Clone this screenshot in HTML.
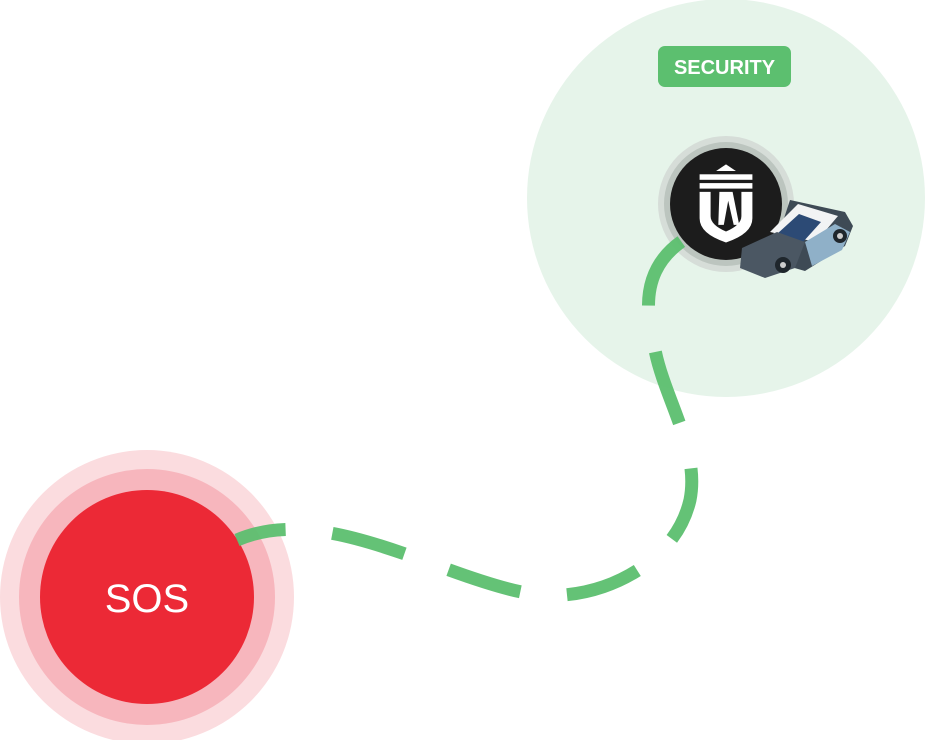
<!DOCTYPE html>
<html><head><style>html,body{margin:0;padding:0;background:#fff;}</style></head>
<body>
<svg width="925" height="740" viewBox="0 0 925 740" xmlns="http://www.w3.org/2000/svg">
<circle cx="726" cy="198" r="199" fill="#e6f4ea"/>
<rect x="658" y="46" width="133" height="41" rx="7" fill="#5cbf6f"/>
<text x="724.5" y="74" text-anchor="middle" font-family="Liberation Sans, sans-serif" font-weight="bold" font-size="20" fill="#fff">SECURITY</text>
<circle cx="147" cy="597" r="147" fill="#fbdcdf"/>
<circle cx="147" cy="597" r="128" fill="#f7b6bd"/>
<circle cx="147" cy="597" r="107" fill="#ec2936"/>
<text x="147" y="612" text-anchor="middle" font-family="Liberation Sans, sans-serif" font-size="40" fill="#fff">SOS</text>
<circle cx="726" cy="204" r="68" fill="#d6ddd8"/>
<circle cx="726" cy="204" r="62" fill="#bcc5bf"/>
<path d="M237 540 C330 500,450 585,540 595 C600 600,675 565,690 500 C700 450,665 400,655 350 C645 310,640 265,690 236" fill="none" stroke="#5cbf6f" stroke-width="13" stroke-dasharray="75 47" stroke-dashoffset="25" stroke-opacity="0.95"/>
<circle cx="726" cy="204" r="56" fill="#1c1c1c"/>
<g fill="#fff" transform="translate(726 204) scale(1.1) translate(-726 -204)">
<path d="M726 168 l9 6 h-18z"/>
<rect x="702" y="177" width="48" height="5"/>
<rect x="702" y="185" width="48" height="5"/>
<path d="M702 193 h10 v22 q0 8 14 14 q14 -6 14 -14 v-22 h10 v24 q0 14 -24 22 q-24 -8 -24 -22z"/>
<path d="M720 193 h12 l6 30 h-5 l-5 -22 l-4 22 h-5z"/>
</g>
<g>
<path d="M790 200 l55 12 l8 14 l-8 20 l-40 25 l-35 -10z" fill="#3e4a55"/>
<path d="M770 232 l28 -28 l40 12 l-22 26z" fill="#f2f3f4"/>
<path d="M777 234 l22 -20 l22 8 l-18 20z" fill="#2c4a75"/>
<path d="M742 248 l35 -16 l28 10 l-10 26 l-30 10 l-25 -10z" fill="#4b5763"/>
<path d="M805 242 l30 -18 l15 8 l-8 18 l-30 16z" fill="#8fb0c8"/>
<circle cx="783" cy="265" r="8" fill="#1f262c"/>
<circle cx="840" cy="236" r="7" fill="#1f262c"/>
<circle cx="783" cy="265" r="3" fill="#ccc"/>
<circle cx="840" cy="236" r="3" fill="#ccc"/>
</g>
</svg>
</body></html>
